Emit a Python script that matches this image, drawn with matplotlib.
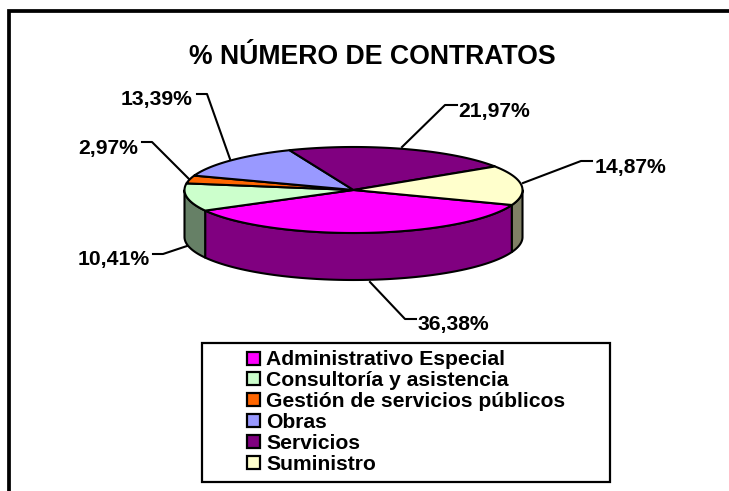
"""Recreate the 3D-looking pie of contract shares."""

import numpy as np
import matplotlib.pyplot as plt

CATEGORIES = [
    "Administrativo Especial",
    "Consultoría y asistencia",
    "Gestión de servicios públicos",
    "Obras",
    "Servicios",
    "Suministro",
]
VALUES = [36.38, 10.41, 2.97, 13.39, 21.97, 14.87]
LABELS = ["36,38%", "10,41%", "2,97%", "13,39%", "21,97%", "14,87%"]
COLORS = ["#FF00FF", "#CCFFCC", "#FF6600", "#9999FF", "#800080", "#FFFFCC"]
SIDE_COLORS = ["#800080", "#668066", "#803300", "#4C4C80", "#400040", "#808066"]

W, H = 729, 491
CX, CY, RX, RY, DEPTH = 353.5, 190, 169, 43, 47
START = -20.4
LW = 1.5

# text x, baseline y, ha, elbow points, point on the pie
LEADERS = [
    (418, 330, "left", [(405, 319), (416, 319)], (370, 282)),
    (150, 265, "right", [(163, 254), (153, 254)], (187, 246)),
    (138, 154, "right", [(152, 142), (142, 142)], (189, 179)),
    (193, 105, "right", [(207, 94), (197, 94)], (230, 159)),
    (458, 117, "left", [(445, 105), (457, 105)], (402, 147)),
    (595, 173, "left", [(581, 161), (592, 161)], (523, 183)),
]

plt.rcParams["font.family"] = ["Liberation Sans", "DejaVu Sans"]
plt.rcParams["font.weight"] = "bold"


def ellipse(t_deg, dy=0.0):
    t = np.radians(t_deg)
    return CX + RX * np.cos(t), CY - RY * np.sin(t) + dy


def main():
    fig = plt.figure(figsize=(W / 100, H / 100), dpi=100)
    ax = fig.add_axes([0, 0, 1, 1])
    ax.set_xlim(0, W)
    ax.set_ylim(H, 0)
    ax.axis("off")

    # frame: only top and left edges are inside the crop
    ax.plot([9.5, 9.5, W + 5], [H + 5, 10.5, 10.5], color="black", lw=2.7, solid_joinstyle="miter")

    sweep = np.array(VALUES) / sum(VALUES) * 360
    edges = START - np.concatenate([[0], np.cumsum(sweep)])

    # walls, only the near side (sin t < 0) shows
    for i in range(len(VALUES)):
        for shift in (0, 360):
            hi = min(edges[i] + shift, 0)
            lo = max(edges[i + 1] + shift, -180)
            if lo >= hi:
                continue
            t = np.linspace(hi, lo, 80)
            x, y = ellipse(t)
            xb, yb = ellipse(t[::-1], DEPTH)
            ax.fill(np.r_[x, xb], np.r_[y, yb], fc=SIDE_COLORS[i], ec="black", lw=LW, joinstyle="round")

    # top face
    for i in range(len(VALUES)):
        t = np.linspace(edges[i], edges[i + 1], 120)
        x, y = ellipse(t)
        ax.fill(np.r_[CX, x], np.r_[CY, y], fc=COLORS[i], ec="black", lw=LW, joinstyle="round")

    for label, (tx, ty, ha, elbow, start) in zip(LABELS, LEADERS):
        pts = [start] + elbow
        ax.plot([p[0] for p in pts], [p[1] for p in pts], color="black", lw=1.5, zorder=0.5)
        ax.text(tx, ty, label, ha=ha, va="baseline", fontsize=15.2)

    ax.text(372, 64, "% NÚMERO DE CONTRATOS", ha="center", va="baseline", fontsize=19.2)

    # legend box
    ax.fill([202, 610, 610, 202], [343, 343, 481.5, 481.5], fc="white", ec="black", lw=1.6)
    for i, name in enumerate(CATEGORIES):
        y = 358 + i * 20.9
        ax.fill([247.5, 260.5, 260.5, 247.5], [y - 6.5, y - 6.5, y + 6.5, y + 6.5],
                fc=COLORS[i], ec="black", lw=1.6)
        ax.text(266, y + 7, name, ha="left", va="baseline", fontsize=15.2)

    fig.savefig("out.png", dpi=100)


if __name__ == "__main__":
    main()
